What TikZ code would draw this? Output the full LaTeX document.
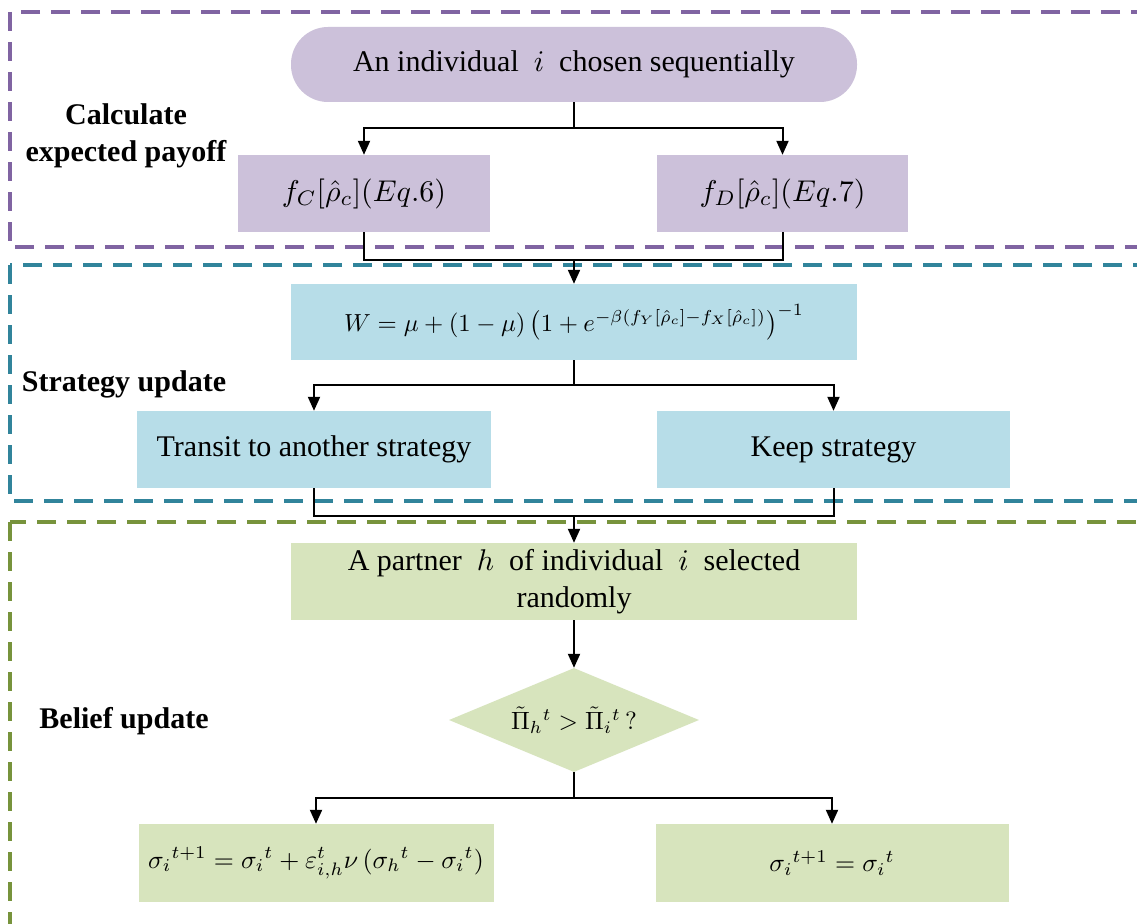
\documentclass[tikz,border=0pt]{standalone}
\usepackage{fontspec}
\setmainfont{Liberation Serif}
\usetikzlibrary{shapes.geometric,arrows.meta}
\definecolor{pfill}{RGB}{204,193,218}
\definecolor{pdash}{RGB}{128,100,162}
\definecolor{tfill}{RGB}{183,221,232}
\definecolor{tdash}{RGB}{49,132,155}
\definecolor{gfill}{RGB}{215,228,189}
\definecolor{gdash}{RGB}{119,147,60}
\newcommand\myfs{\fontsize{30}{37}\selectfont}
\newcommand\bigmath[2]{\scalebox{#1}{\normalsize$#2$}}
\tikzset{
  flowbox/.style={rectangle, inner sep=0pt, font=\myfs, text=black, align=center},
  pbox/.style={flowbox, fill=pfill},
  tbox/.style={flowbox, fill=tfill},
  gbox/.style={flowbox, fill=gfill},
  conn/.style={line width=2pt, draw=black},
  arr/.style={conn, -{Triangle[length=14pt,width=12pt]}},
  grp/.style={line width=3.2pt, dash pattern=on 19pt off 11pt},
  lbl/.style={font=\myfs\bfseries, align=center, inner sep=0pt}
}
\begin{document}
\begin{tikzpicture}[x=1pt,y=-1pt]
\useasboundingbox (0,0) rectangle (1137,923);
\clip (0,0) rectangle (1137,923);
\fill[white] (0,0) rectangle (1137,923);
% group frames
\draw[grp, draw=pdash] (10,12) rectangle (1170,247);
\draw[grp, draw=tdash] (10,265) rectangle (1170,501);
\draw[grp, draw=gdash] (10,522) rectangle (1170,960);
% labels
\node[lbl] (l1) at (126,136) {Calculate\\expected payoff};
\node[lbl] (l2) at (124,384) {Strategy update};
\node[lbl] (l3) at (124,721) {Belief update};
% nodes
\node[pbox, rounded corners=37pt, minimum width=566pt, minimum height=75pt] (top) at (574,64.5) {An individual\ \ \bigmath{3}{i}\ \ chosen sequentially};
\node[pbox, minimum width=252pt, minimum height=77pt] (fC) at (364,193.5) {\bigmath{3.0}{f_C[\hat{\rho}_c](Eq.6)}};
\node[pbox, minimum width=251pt, minimum height=77pt] (fD) at (782.5,193.5) {\bigmath{3.0}{f_D[\hat{\rho}_c](Eq.7)}};
\node[tbox, minimum width=566pt, minimum height=76pt] (W) at (574,322) {\bigmath{2.47}{W=\mu+(1-\mu)\left(1+e^{-\beta(f_Y[\hat{\rho}_c]-f_X[\hat{\rho}_c])}\right)^{-1}}};
\node[tbox, minimum width=354pt, minimum height=77pt] (T) at (314,449.5) {Transit to another strategy};
\node[tbox, minimum width=353pt, minimum height=77pt] (K) at (833.5,449.5) {Keep strategy};
\node[gbox, minimum width=566pt, minimum height=77pt] (P) at (574,581.5) {A partner\ \ \bigmath{3}{h}\ \ of individual\ \ \bigmath{3}{i}\ \ selected\\randomly};
\node[gbox, diamond, aspect=2.4, minimum width=250pt, minimum height=104pt] (D) at (574,720) {\bigmath{2.5}{\tilde{\Pi}_h{}^t>\tilde{\Pi}_i{}^t\,?}};
\node[gbox, minimum width=355pt, minimum height=78pt] (BL) at (316,863) {\bigmath{2.58}{\sigma_i{}^{t+1}=\sigma_i{}^t+\varepsilon_{i,h}^t\nu\left(\sigma_h{}^t-\sigma_i{}^t\right)}};
\node[gbox, minimum width=353pt, minimum height=78pt] (BR) at (832,863) {\bigmath{2.58}{\sigma_i{}^{t+1}=\sigma_i{}^t}};
% junctions
\coordinate (j1) at (574,128);
\coordinate (j2) at (574,260);
\coordinate (j3) at (574,385);
\coordinate (j4) at (574,516);
\coordinate (j5) at (574,798);
% connectors
\draw[conn] (top.south) -- (j1);
\draw[arr] (j1) -| (fC.north);
\draw[arr] (j1) -| (fD.north);
\draw[conn] (fC.south) |- (j2);
\draw[conn] (fD.south) |- (j2);
\draw[arr] (j2) -- (W.north);
\draw[conn] (W.south) -- (j3);
\draw[arr] (j3) -| (T.north);
\draw[arr] (j3) -| (K.north);
\draw[conn] (T.south) |- (j4);
\draw[conn] (K.south) |- (j4);
\draw[arr] (j4) -- (P.north);
\draw[arr] (P.south) -- (D.north);
\draw[conn] (D.south) -- (j5);
\draw[arr] (j5) -| (BL.north);
\draw[arr] (j5) -| (BR.north);
\end{tikzpicture}
\end{document}
